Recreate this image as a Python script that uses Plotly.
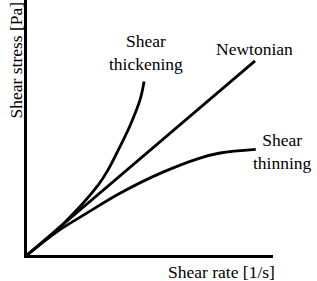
import plotly.graph_objects as go

# Data (arbitrary units)
newt_x = [0.0, 9.27]
newt_y = [0.0, 7.61]

thick_x = [0.0, 1.50, 2.90, 3.30, 3.65, 4.20, 4.60, 4.76]
thick_y = [0.0, 1.25, 2.75, 3.35, 4.00, 5.10, 6.10, 6.80]

thin_x = [0.0, 1.20, 2.43, 3.78, 5.41, 7.03, 7.85, 9.30]
thin_y = [0.0, 0.90, 1.64, 2.42, 3.20, 3.80, 4.00, 4.14]

labels = ["Shear<br>thickening", "Newtonian"]
label_x = [4.82, 9.25]
label_y = [7.96, 8.06]

FONT = "Liberation Serif"
FS = 17.5

fig = go.Figure()
for xs, ys, sm in [(thick_x, thick_y, 1.0), (newt_x, newt_y, 0), (thin_x, thin_y, 1.0)]:
    fig.add_trace(go.Scatter(x=xs, y=ys, mode="lines",
                             line=dict(color="black", width=2.8, shape="spline" if sm else "linear", smoothing=sm),
                             showlegend=False, hoverinfo="skip", cliponaxis=False))

for t, x, y in zip(labels, label_x, label_y):
    fig.add_annotation(x=x, y=y, xref="x", yref="y", text=t, showarrow=False,
                       font=dict(family=FONT, size=FS, color="black"),
                       xanchor="center", yanchor="middle", align="center")

# label outside the x range -> paper coordinates
fig.add_annotation(x=(282.5 - 27) / 246, y=(255 - 151) / 255, xref="paper", yref="paper",
                   text="Shear<br>thinning", showarrow=False,
                   font=dict(family=FONT, size=FS, color="black"),
                   xanchor="center", yanchor="middle", align="center")

fig.add_annotation(x=0.789, y=-0.066, xref="paper", yref="paper", text="Shear rate [1/s]",
                   showarrow=False, font=dict(family=FONT, size=FS, color="black"),
                   xanchor="center", yanchor="middle")
fig.add_annotation(x=-0.0467, y=0.765, xref="paper", yref="paper", text="Shear stress [Pa]",
                   showarrow=False, textangle=-90, font=dict(family=FONT, size=FS, color="black"),
                   xanchor="center", yanchor="middle")

fig.update_xaxes(range=[0, 10], showline=True, linecolor="black", linewidth=3,
                 showgrid=False, zeroline=False, showticklabels=False, ticks="")
fig.update_yaxes(range=[0, 10], showline=True, linecolor="black", linewidth=3,
                 showgrid=False, zeroline=False, showticklabels=False, ticks="")

fig.update_layout(width=317, height=281, margin=dict(l=27, r=44, t=0, b=26),
                  paper_bgcolor="white", plot_bgcolor="white",
                  font=dict(family=FONT, size=FS, color="black"))

fig.write_html("out.html")
